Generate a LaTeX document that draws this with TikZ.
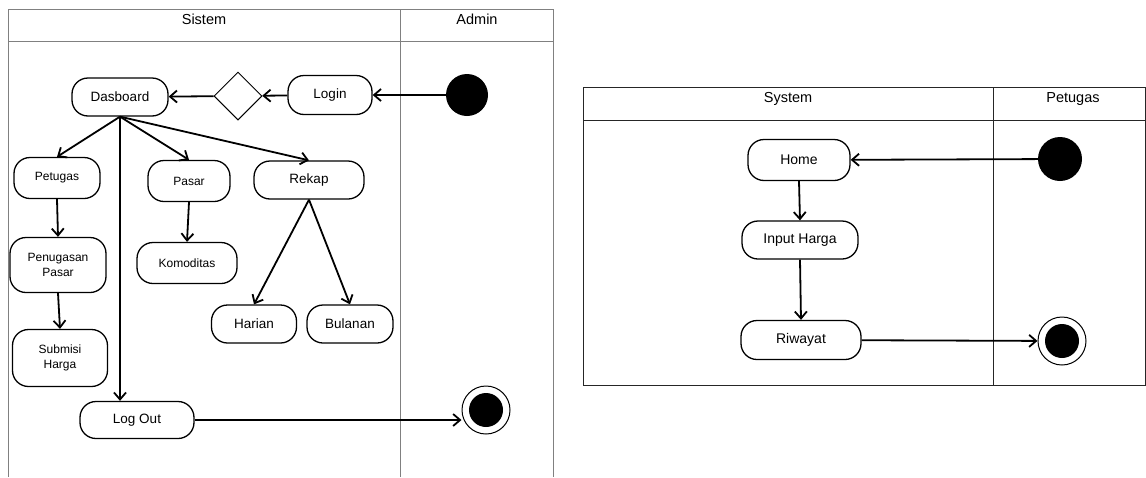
\documentclass[tikz,border=0pt]{standalone}
\usepackage{fontspec}
\setmainfont{Liberation Sans}
\usetikzlibrary{arrows.meta,shapes.geometric}

\begin{document}
\begin{tikzpicture}[x=1pt, y=-1pt, >={Straight Barb[length=7pt,width=12pt]},
	act/.style={draw, line width=1.3pt, rounded corners=16pt, align=center, inner sep=2pt,
		font=\fontsize{12}{14.5}\selectfont},
	act big/.style={font=\fontsize{13.5}{16}\selectfont},
	head/.style={font=\fontsize{14.5}{17}\selectfont, anchor=base},
	flow/.style={->, line width=1.8pt},
	lane/.style={draw=black!50, line width=1pt},
	start dot/.style={circle, fill=black, inner sep=0pt, minimum size=#1},
	end dot/.style={circle, draw, fill=white, line width=1pt, inner sep=0pt, minimum size=48pt,
		path picture={\fill [black] (path picture bounding box.center) circle (17pt);}}]
	\useasboundingbox (0,0) rectangle (1146,477);

	\draw [lane] (8,477) -- (8,9) -- (553,9) -- (553,477);
	\draw [lane] (8,41) -- (553,41) (400,9) -- (400,477);
	\draw [lane, draw=black!85] (583,87) rectangle (1145,385);
	\draw [lane, draw=black!85] (583,120) -- (1145,120) (993,87) -- (993,385);

	\foreach \t/\x/\y/\n in {Sistem/204/24/sistem, Admin/477/24/admin, System/788/102/system, Petugas/1073/102/petugas}
	\node [head] (head-\n) at (\x,\y) {\t};

	\node [start dot=42pt] (admin-start) at (467,95) {};
	\node [act, act big, minimum width=84pt, minimum height=39pt] (login) at (330,95) {Login};
	\node [draw, diamond, line width=1pt, inner sep=0pt, minimum width=48pt, minimum height=48pt] (choice) at (238,96) {};
	\node [act, act big, minimum width=96pt, minimum height=38pt] (dasboard) at (120,97) {Dasboard};

	\node [act, minimum width=86pt, minimum height=41pt] (petugas) at (57,178) {Petugas};
	\node [act, minimum width=96pt, minimum height=55pt] (penugasan) at (58,265) {Penugasan\\Pasar};
	\node [act, minimum width=95pt, minimum height=57pt] (submisi) at (60,358) {Submisi\\Harga};
	\node [act, minimum width=82pt, minimum height=41pt] (pasar) at (189,181) {Pasar};
	\node [act, minimum width=100pt, minimum height=41pt] (komoditas) at (187,263) {Komoditas};
	\node [act, act big, minimum width=110pt, minimum height=38pt] (rekap) at (309,180) {Rekap};
	\node [act, act big, minimum width=85pt, minimum height=38pt] (harian) at (254,324) {Harian};
	\node [act, act big, minimum width=86pt, minimum height=38pt] (bulanan) at (350,324) {Bulanan};
	\node [act, act big, minimum width=114pt, minimum height=37pt] (logout) at (137,420) {Log Out};
	\node [end dot] (admin-end) at (486,410) {};

	\node [start dot=44pt] (petugas-start) at (1060,159) {};
	\node [act, font=\fontsize{14}{16}\selectfont, minimum width=102pt, minimum height=41pt] (home) at (799,160) {Home};
	\node [act, font=\fontsize{14}{16}\selectfont, minimum width=116pt, minimum height=38pt] (input) at (800,240) {Input Harga};
	\node [act, font=\fontsize{14}{16}\selectfont, minimum width=120pt, minimum height=39pt] (riwayat) at (801,340) {Riwayat};
	\node [end dot] (petugas-end) at (1062,341) {};

	\draw [flow] (admin-start) -- (login);
	\draw [flow] (login) -- (choice);
	\draw [flow] (choice) -- (dasboard);

	\foreach \n in {petugas, pasar, rekap}
	\draw [flow] (dasboard.south) -- (\n.north);
	\draw [flow] (dasboard.south) -- (dasboard.south |- logout.north);

	\foreach \a/\b in {petugas/penugasan, penugasan/submisi, pasar/komoditas}
	\draw [flow] (\a.south) -- (\b.north);

	\foreach \n in {harian, bulanan}
	\draw [flow] (rekap.south) -- (\n.north);

	\draw [flow] (logout.east) -- (logout.east -| admin-end.west);

	\draw [flow] (petugas-start) -- (home);
	\foreach \a/\b in {home/input, input/riwayat}
	\draw [flow] (\a.south) -- (\b.north);
	\draw [flow] (riwayat) -- (petugas-end);
\end{tikzpicture}
\end{document}
